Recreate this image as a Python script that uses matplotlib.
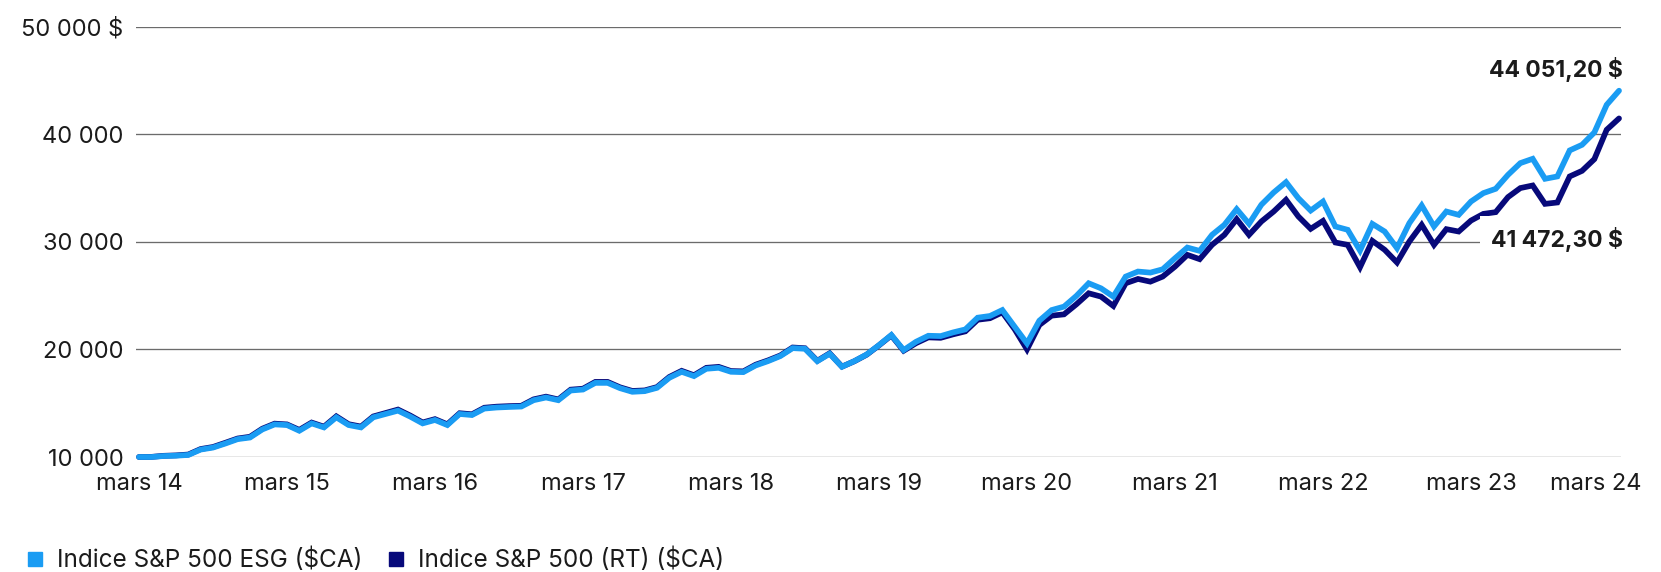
import matplotlib
matplotlib.use("Agg")
import matplotlib.pyplot as plt
from matplotlib.lines import Line2D
from matplotlib.transforms import ScaledTranslation
import numpy as np

# ---- data (monthly, mars 2014 -> mars 2024) ----
esg = [10000, 10000, 10090, 10120, 10190, 10690, 10875, 11250, 11660, 11810,
       12560, 13030, 12970, 12440, 13125, 12750, 13690, 12970, 12750, 13690,
       14000, 14310, 13750, 13125, 13440, 12970, 14000, 13900, 14500, 14600,
       14650, 14690, 15280, 15530, 15280, 16180, 16270, 16890, 16890, 16400,
       16060, 16120, 16430, 17360, 17920, 17520, 18200, 18290, 17920, 17890,
       18510, 18910, 19380, 20120, 20060, 18910, 19600, 18390, 18910, 19530,
       20400, 21340, 19940, 20710, 21270, 21240, 21580, 21860, 22950, 23110,
       23660, 22110, 20560, 22670, 23660, 23980, 24970, 26150, 25680, 24910,
       26770, 27240, 27140, 27450, 28480, 29470, 29160, 30650, 31580, 33040,
       31680, 33450, 34590, 35550, 34060, 32910, 33750, 31430, 31120, 29190,
       31670, 30960, 29410, 31740, 33380, 31430, 32820, 32510, 33750, 34530,
       34930, 36230, 37320, 37720, 35860, 36080, 38500, 39020, 40170, 42740,
       44051.20]

sp500 = [10000, 10010, 10110, 10150, 10230, 10740, 10930, 11320, 11720, 11880,
         12630, 13100, 13030, 12520, 13200, 12820, 13780, 13050, 12830, 13770,
         14090, 14410, 13850, 13210, 13520, 13040, 14070, 13970, 14580, 14680,
         14730, 14760, 15360, 15610, 15350, 16260, 16350, 16980, 16980, 16480,
         16140, 16190, 16500, 17440, 18010, 17600, 18290, 18380, 17990, 17960,
         18580, 18980, 19440, 20180, 20110, 18940, 19640, 18400, 18900, 19510,
         20380, 21300, 19880, 20580, 21120, 21080, 21400, 21680, 22760, 22900,
         23450, 21880, 20000, 22270, 23140, 23260, 24190, 25220, 24910, 24040,
         26150, 26550, 26300, 26770, 27700, 28790, 28390, 29720, 30650, 32110,
         30650, 31890, 32820, 33910, 32360, 31210, 31950, 29940, 29720, 27640,
         30090, 29260, 28080, 30030, 31580, 29720, 31180, 30960, 31980, 32600,
         32760, 34160, 35000, 35240, 33530, 33660, 36080, 36600, 37690, 40420,
         41472.30]

xtick_labels = ["mars 14", "mars 15", "mars 16", "mars 17", "mars 18", "mars 19",
                "mars 20", "mars 21", "mars 22", "mars 23", "mars 24"]
ytick_values = [10000, 20000, 30000, 40000, 50000]
ytick_labels = ["10 000", "20 000", "30 000", "40 000", "50 000 $"]
series_names = ["Indice S&P 500 ESG ($CA)", "Indice S&P 500 (RT) ($CA)"]
end_labels = ["44 051,20 $", "41 472,30 $"]

C_ESG = "#1a9cf3"
C_SP = "#07097a"
C_TXT = "#1b1b1b"
C_GRID = "#6b6b6b"

plt.rcParams["font.family"] = ["Inter", "DejaVu Sans"]
FS = 17

W, H = 1661, 572
fig = plt.figure(figsize=(W / 100, H / 100), dpi=100)
ax = fig.add_axes([136 / W, (H - 457) / H, 1485 / W, 430.3 / H])

x = np.arange(len(esg))
ax.plot(x, sp500, color=C_SP, lw=4.1, solid_joinstyle="miter", solid_capstyle="round",
        clip_on=False, zorder=3)
ax.plot(x, esg, color=C_ESG, lw=4.1, solid_joinstyle="miter", solid_capstyle="round",
        clip_on=False, zorder=4)

ax.set_xlim(-0.24, 120.16)
ax.set_ylim(10000, 50000)

for v in ytick_values:
    ax.axhline(v, color=C_GRID, lw=0.95, zorder=1)

for s in ax.spines.values():
    s.set_visible(False)

ax.set_yticks(ytick_values)
ax.set_yticklabels(ytick_labels)
ax.set_xticks(np.arange(0, 121, 12))
ax.set_xticklabels(xtick_labels)
ax.tick_params(axis="both", length=0, labelsize=FS, colors=C_TXT)
ax.tick_params(axis="y", pad=9.0)
ax.tick_params(axis="x", pad=11.5)

last = ax.get_xticklabels()[-1]
last.set_transform(last.get_transform() + ScaledTranslation(-0.23, 0, fig.dpi_scale_trans))

# end value labels
ax.text(120.3, 46000, end_labels[0], ha="right", va="center", fontsize=16.5,
        fontweight="bold", color=C_TXT, zorder=5)
ax.text(120.3, 30250, end_labels[1], ha="right", va="center", fontsize=16.5,
        fontweight="bold", color=C_TXT, zorder=5,
        bbox=dict(boxstyle="square,pad=0.45", fc="white", ec="none"))

# legend
handles = [Line2D([], [], marker="s", ls="none", markersize=10, color=C_ESG),
           Line2D([], [], marker="s", ls="none", markersize=10, color=C_SP)]
fig.legend(handles, series_names, loc="center left", bbox_to_anchor=(25 / W, (H - 560) / H),
           ncol=2, frameon=False, fontsize=17.5, handlelength=0.8, handletextpad=0.5,
           columnspacing=1.0, borderpad=0, borderaxespad=0, labelcolor=C_TXT)

fig.savefig("out.png", dpi=100, facecolor="white")
